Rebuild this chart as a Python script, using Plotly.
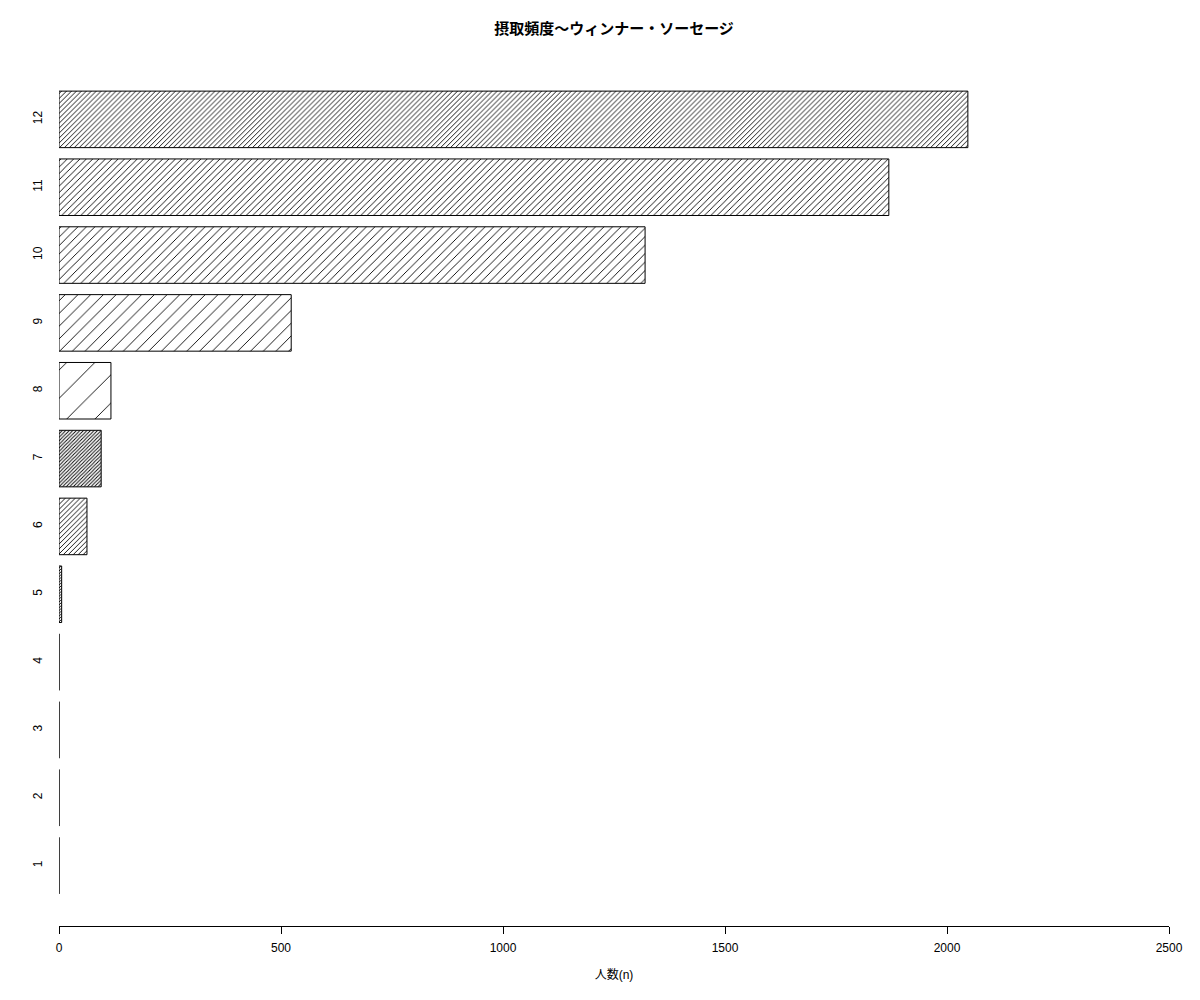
import plotly.graph_objects as go

# 摂取頻度 categories and counts
freq = ["1", "2", "3", "4", "5", "6", "7", "8", "9", "10", "11", "12"]
counts = [0, 0, 0, 0, 6, 63, 95, 117, 523, 1320, 1869, 2047]
# hatch spacing (px) per bar, like R barplot density
hatch = [2, 2, 2, 2, 2, 3.5, 2.5, 20, 9, 6, 4.5, 3.5]

x_ticks = [0, 500, 1000, 1500, 2000, 2500]

font_fam = "Liberation Sans, Arial, Noto Sans CJK JP, sans-serif"

fig = go.Figure()
fig.add_trace(go.Bar(
    x=counts,
    y=freq,
    orientation="h",
    marker=dict(
        color="white",
        line=dict(color="black", width=1),
        pattern=dict(
            shape="/",
            size=hatch,
            solidity=[min(0.5, 0.9 / s) for s in hatch],
            fgcolor="black",
            fgopacity=1,
            bgcolor="white",
            fillmode="overlay",
        ),
    ),
    showlegend=False,
))

# page body has an 8px margin, so margins are shifted by 8
fig.update_layout(
    width=1200, height=1000,
    paper_bgcolor="white", plot_bgcolor="white",
    margin=dict(l=51, r=39, t=51, b=82),
    bargap=0.2 / 1.2,
    font=dict(family=font_fam, size=12, color="black"),
    title=dict(
        text="<b>摂取頻度〜ウィンナー・ソーセージ</b>",
        x=0.5, xref="paper", xanchor="center",
        y=1 - 21 / 1000, yref="container", yanchor="middle",
        font=dict(size=15, family="Liberation Sans, Noto Sans CJK JP, sans-serif"),
    ),
)

fig.update_xaxes(
    range=[0, 2500],
    tickvals=x_ticks,
    showgrid=False, zeroline=False,
    showline=True, linecolor="black", linewidth=1,
    ticks="outside", ticklen=7, tickcolor="black",
    ticklabelstandoff=4,
    title=dict(text="人数(n)", font=dict(size=12), standoff=16),
)
fig.update_yaxes(
    type="category",
    range=[-0.89, 11.89],
    showgrid=False, zeroline=False, showline=False,
    tickangle=-90,
    ticks="outside", ticklen=11, tickcolor="rgba(0,0,0,0)",
)

fig.write_html("out.html")
